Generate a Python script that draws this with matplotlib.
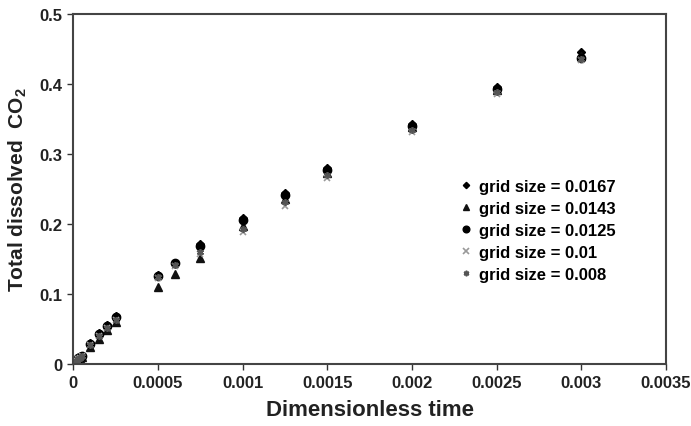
import matplotlib
matplotlib.use("Agg")
import matplotlib.pyplot as plt

plt.rcParams['font.family'] = ['Liberation Sans', 'DejaVu Sans']
plt.rcParams['font.weight'] = 'bold'

# dimensionless time
t = [0.00001, 0.00002, 0.00003, 0.00004, 0.00005, 0.0001, 0.00015, 0.0002,
     0.00025, 0.0005, 0.0006, 0.00075, 0.001, 0.00125, 0.0015, 0.002,
     0.0025, 0.003]

# total dissolved CO2 for each grid size
co2_0167 = [0.004, 0.006, 0.008, 0.010, 0.012, 0.030, 0.044, 0.056, 0.068,
            0.127, 0.145, 0.171, 0.209, 0.244, 0.280, 0.343, 0.395, 0.445]
co2_0143 = [0.003, 0.005, 0.007, 0.009, 0.010, 0.024, 0.036, 0.049, 0.060,
            0.110, 0.128, 0.152, 0.197, 0.236, 0.273, 0.338, 0.392, 0.440]
co2_0125 = [0.004, 0.006, 0.008, 0.010, 0.012, 0.029, 0.043, 0.055, 0.067,
            0.126, 0.144, 0.169, 0.206, 0.241, 0.277, 0.340, 0.393, 0.437]
co2_01 = [0.003, 0.005, 0.007, 0.009, 0.011, 0.027, 0.040, 0.052, 0.063,
          0.123, 0.140, 0.157, 0.188, 0.226, 0.266, 0.331, 0.385, 0.434]
co2_008 = [0.003, 0.005, 0.007, 0.009, 0.011, 0.027, 0.040, 0.052, 0.063,
           0.124, 0.141, 0.160, 0.193, 0.231, 0.270, 0.334, 0.388, 0.436]

labels = ['grid size = 0.0167', 'grid size = 0.0143', 'grid size = 0.0125',
          'grid size = 0.01', 'grid size = 0.008']

fig = plt.figure(figsize=(6.91, 4.27), dpi=100)
ax = fig.add_axes([0.106, 0.145, 0.858, 0.82])

ax.plot(t, co2_0167, ls='none', marker='D', ms=4, color='black', label=labels[0])
ax.plot(t, co2_0143, ls='none', marker='^', ms=6, color='#111111', label=labels[1])
ax.plot(t, co2_0125, ls='none', marker='o', ms=6, color='black', label=labels[2])
ax.plot(t, co2_01, ls='none', marker='x', ms=5, mew=1.2, color='#999999', label=labels[3])
ax.plot(t, co2_008, ls='none', marker=(6, 2, 0), ms=5, mew=1.2, color='#555555', label=labels[4])

ax.set_xlim(0, 0.0035)
ax.set_ylim(0, 0.5)
ax.set_xticks([0, 0.0005, 0.001, 0.0015, 0.002, 0.0025, 0.003, 0.0035])
ax.set_xticklabels(['0', '0.0005', '0.001', '0.0015', '0.002', '0.0025', '0.003', '0.0035'])
ax.set_yticks([0, 0.1, 0.2, 0.3, 0.4, 0.5])
ax.set_yticklabels(['0', '0.1', '0.2', '0.3', '0.4', '0.5'])
ax.tick_params(direction='out', length=4, width=1, colors='#333333', labelsize=12,
               labelcolor='#222222')
for s in ax.spines.values():
    s.set_color('#444444')
    s.set_linewidth(1.5)

ax.set_xlabel('Dimensionless time', fontsize=16, fontweight='bold', color='#222222', labelpad=7)
ax.set_ylabel('Total dissolved  CO$_\\mathregular{2}$', fontsize=15, fontweight='bold',
              color='#222222', labelpad=8)

ax.legend(loc='upper left', bbox_to_anchor=(0.64, 0.552), frameon=False,
          handlelength=0.6, handletextpad=0.5, labelspacing=0.42, borderpad=0,
          markerscale=0.8, prop={'weight': 'bold', 'size': 12})

fig.savefig('out.png', dpi=100)
